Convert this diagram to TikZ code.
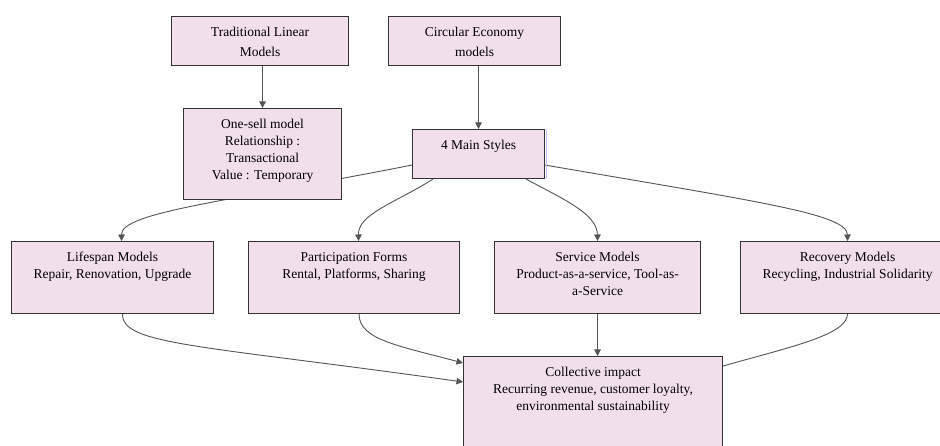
\documentclass[tikz,border=0pt]{standalone}
\usepackage{fontspec}
\setmainfont{Liberation Serif}
\usetikzlibrary{arrows.meta,calc}
\pgfdeclarelayer{canvas}
\pgfdeclarelayer{background}
\pgfsetlayers{canvas,background,main}
\definecolor{boxfill}{RGB}{241,223,236}
\definecolor{boxline}{RGB}{51,51,51}
\definecolor{edgecol}{RGB}{85,85,85}
\definecolor{lav}{RGB}{200,190,255}
\begin{document}
\begin{tikzpicture}[x=1pt,y=-1pt,
  box/.style={draw=boxline,fill=boxfill,line width=1.1pt,inner sep=0pt,anchor=north west},
  lbl/.style={inner sep=0pt,anchor=north,align=center,font=\fontsize{13.5}{17}\selectfont},
  edge/.style={draw=edgecol,line width=0.9pt,-{Triangle[length=6.5pt,width=6.5pt]}},
  plain/.style={draw=edgecol,line width=0.9pt}]
\useasboundingbox (0,0) rectangle (940,446);
\begin{pgfonlayer}{canvas}
\fill[white] (0,0) rectangle (940,446);
\end{pgfonlayer}
% boxes
\node[box,minimum width=177pt,minimum height=49pt] (trad) at (171,16) {};
\node[box,minimum width=172pt,minimum height=49pt] (circ) at (388,16) {};
\node[box,minimum width=158pt,minimum height=91pt] (one) at (183,108) {};
\node[box,minimum width=132pt,minimum height=49pt] (mainst) at (412,129) {};
\node[box,minimum width=202pt,minimum height=72pt] (life) at (11,241) {};
\node[box,minimum width=211pt,minimum height=72pt] (part) at (248,241) {};
\node[box,minimum width=206pt,minimum height=72pt] (serv) at (494,241) {};
\node[box,minimum width=214pt,minimum height=72pt] (reco) at (740,241) {};
\node[box,minimum width=259pt,minimum height=114pt] (coll) at (463,356) {};
\draw[lav,line width=1pt] ([xshift=1.2pt]mainst.north east) -- ([xshift=1.2pt]mainst.south east);
% labels
\node[lbl,font=\fontsize{13.5}{20}\selectfont] (tradt) at ([yshift=-11pt]trad.north) {Traditional Linear\\Models};
\node[lbl,font=\fontsize{13.5}{20}\selectfont] (circt) at ([yshift=-11pt]circ.north) {Circular Economy\\models};
\node[lbl] (onet) at ([yshift=-11pt]one.north) {One-sell model\\Relationship :\\Transactional\\Value : Temporary};
\node[lbl] (mainstt) at ([yshift=-11pt]mainst.north) {4 Main Styles};
\node[lbl] (lifet) at ([yshift=-11pt]life.north) {Lifespan Models\\Repair, Renovation, Upgrade};
\node[lbl] (partt) at ([yshift=-11pt]part.north) {Participation Forms\\Rental, Platforms, Sharing};
\node[lbl] (servt) at ([yshift=-11pt]serv.north) {Service Models\\Product-as-a-service, Tool-as-\\a-Service};
\node[lbl] (recot) at ([yshift=-11pt]reco.north) {Recovery Models\\Recycling, Industrial Solidarity};
\node[lbl] (collt) at ([yshift=-11pt]coll.north) {Collective impact\\Recurring revenue, customer loyalty,\\environmental sustainability};
% edges
\begin{pgfonlayer}{background}
\draw[edge] (one.north |- trad.south) -- (one.north);
\draw[edge] (mainst.north |- circ.south) -- (mainst.north);
\draw[edge] ([yshift=-11pt]mainst.west) .. controls (230,201) and (121,212) .. ([xshift=9pt]life.north);
\draw[edge] ([xshift=21pt]mainst.south west) .. controls (395,203) and (358,214) .. ([xshift=4.5pt]part.north);
\draw[edge] ([xshift=-19pt]mainst.south east) .. controls (565,200) and (597,214) .. (serv.north);
\draw[edge] ([yshift=-11pt]mainst.east) .. controls (760,202) and (847,214) .. (reco.north);
\draw[edge] ([xshift=10pt]life.south) .. controls (122,345) and (200,345) .. ([yshift=-26pt]coll.north west);
\draw[edge] ([xshift=5pt]part.south) .. controls (359,340) and (400,346) .. ([yshift=-7pt]coll.north west);
\draw[edge] (serv.south) -- (serv.south |- coll.north);
\draw[plain] (reco.south) .. controls (847,335) and (790,347) .. ([yshift=-10pt]coll.north east);
\end{pgfonlayer}
\end{tikzpicture}
\end{document}
